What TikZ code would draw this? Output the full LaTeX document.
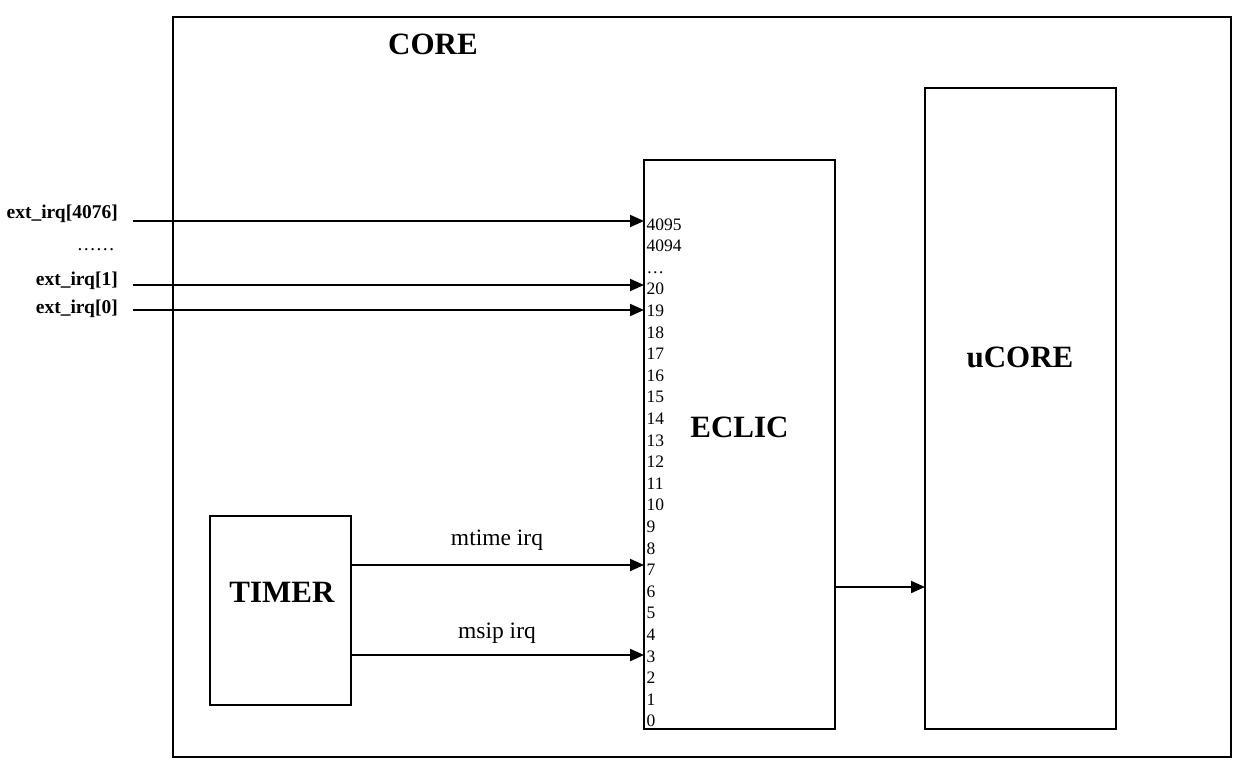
\documentclass[tikz,border=0pt]{standalone}
\usepackage{fontspec}
\setmainfont{Liberation Serif}
\usetikzlibrary{arrows.meta}
\begin{document}
\begin{tikzpicture}[x=1pt,y=-1pt,
  box/.style={draw,line width=2pt,inner sep=0pt,outer sep=0pt},
  arr/.style={line width=2pt,-{Triangle[length=14pt,width=12pt]}},
  biglabel/.style={font=\fontsize{31}{31}\selectfont\bfseries,inner sep=0pt},
  irqlabel/.style={font=\fontsize{19.5}{19.5}\selectfont\bfseries,inner sep=0pt,anchor=base east},
  numlabel/.style={font=\fontsize{17.5}{17.5}\selectfont,inner sep=0pt,anchor=base west},
  siglabel/.style={font=\fontsize{23.5}{23.5}\selectfont,inner sep=0pt}]
\useasboundingbox (0,0) rectangle (1241,765);
% boxes
\node[box,minimum width=1058pt,minimum height=740pt] (core) at (702,387) {};
\node[box,minimum width=191pt,minimum height=569pt] (eclic) at (739.5,444.5) {};
\node[box,minimum width=191pt,minimum height=641pt] (ucore) at (1020.5,408.5) {};
\node[box,minimum width=141pt,minimum height=189pt] (timer) at (280.5,610.5) {};
% titles
\node[biglabel] (coret) at (433,44) {CORE};
\node[biglabel] (eclict) at (739.5,427) {ECLIC};
\node[biglabel] (ucoret) at (1020,357) {uCORE};
\node[biglabel] (timert) at (282,592) {TIMER};
% external irq labels
\node[irqlabel] (l4076) at (118,218) {ext\_irq[4076]};
\node[irqlabel,font=\fontsize{19}{19}\selectfont] (ldots) at (115,250) {……};
\node[irqlabel] (l1) at (118,285) {ext\_irq[1]};
\node[irqlabel] (l0) at (118,313) {ext\_irq[0]};
% numbers
\foreach \t [count=\i from 0] in {4095,4094,…,20,19,18,17,16,15,14,13,12,11,10,9,8,7,6,5,4,3,2,1,0}
  \node[numlabel] (n\i) at (646.5,230+21.6*\i) {\t};
% arrows
\coordinate (s1) at (133,221);
\coordinate (s2) at (133,285);
\coordinate (s3) at (133,310);
\draw[arr] (s1) -- (s1 -| eclic.west);
\draw[arr] (s2) -- (s2 -| eclic.west);
\draw[arr] (s3) -- (s3 -| eclic.west);
\coordinate (t1) at (timer.east |- 0,565);
\coordinate (t2) at (timer.east |- 0,655);
\draw[arr] (t1) -- (t1 -| eclic.west);
\draw[arr] (t2) -- (t2 -| eclic.west);
\node[siglabel] (mt) at (497,540) {mtime irq};
\node[siglabel] (ms) at (497,633) {msip irq};
\coordinate (e1) at (eclic.east |- 0,587);
\draw[arr] (e1) -- (e1 -| ucore.west);
\end{tikzpicture}
\end{document}
